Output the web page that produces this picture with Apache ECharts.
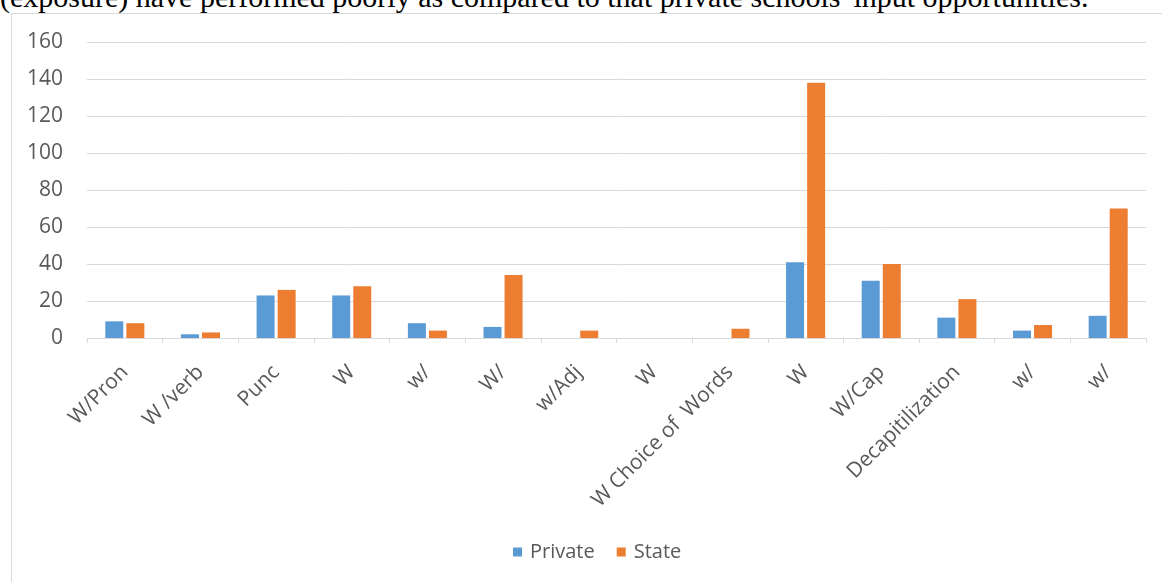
<!DOCTYPE html>
<html>
<head>
<meta charset="utf-8">
<script src="https://cdn.jsdelivr.net/npm/echarts@6/dist/echarts.min.js"></script>
<style>
html,body{margin:0;padding:0;width:1162px;height:582px;overflow:hidden;background:#fff;}
#caption{position:absolute;left:0;top:-23px;font-family:"Liberation Serif","Times New Roman",serif;font-size:30px;color:#000;white-space:nowrap;line-height:40px;}
#frame{position:absolute;left:11px;top:13px;width:1200px;height:700px;border:1px solid #d9d9d9;box-sizing:border-box;}
#chart{position:absolute;left:0;top:0;width:1162px;height:582px;}
</style>
</head>
<body>
<div id="caption">(exposure) have performed poorly as compared to that private schools' input opportunities.</div>
<div id="frame"></div>
<div id="chart"></div>
<script>
const categories = ["W/Pron", "W /verb", "Punc", "W", "w/", "W/", "w/Adj", "W", "W Choice of  Words", "W", "W/Cap", "Decapitilization", "w/", "w/"];
const privateValues = [9, 2, 23, 23, 8, 6, 0, 0, 0, 41, 31, 11, 4, 12];
const stateValues = [8, 3, 26, 28, 4, 34, 4, 0, 5, 138, 40, 21, 7, 70];
const yTicks = [0, 20, 40, 60, 80, 100, 120, 140, 160];

const chart = echarts.init(document.getElementById('chart'), null, {renderer: 'canvas'});
const font = '"Open Sans", "DejaVu Sans", sans-serif';
chart.setOption({
  animation: false,
  backgroundColor: 'transparent',
  grid: {left: 87, right: 16, top: 42, bottom: 244, containLabel: false},
  legend: {
    data: ['Private', 'State'],
    left: 508, top: 537,
    itemWidth: 9, itemHeight: 9, itemGap: 22,
    icon: 'rect',
    textStyle: {fontFamily: font, fontSize: 20, color: '#595959', padding: [0, 0, 0, 3]}
  },
  xAxis: {
    type: 'category',
    data: categories,
    axisLine: {lineStyle: {color: '#d9d9d9', width: 1}},
    axisTick: {show: true, length: 5, lineStyle: {color: '#d9d9d9'}},
    axisLabel: {rotate: 45, interval: 0, margin: 31, fontFamily: font, fontSize: 21, color: '#595959'}
  },
  yAxis: {
    type: 'value',
    min: yTicks[0], max: yTicks[yTicks.length - 1], interval: 20,
    axisLine: {show: false},
    axisTick: {show: false},
    splitLine: {lineStyle: {color: '#d9d9d9', width: 1}},
    axisLabel: {margin: 24, fontFamily: font, fontSize: 21, color: '#595959'}
  },
  series: [
    {name: 'Private', type: 'bar', data: privateValues, barWidth: 18, barGap: '17%',
     itemStyle: {color: '#5B9BD5'}},
    {name: 'State', type: 'bar', data: stateValues, barWidth: 18,
     itemStyle: {color: '#ED7D31'}}
  ]
});
</script>
</body>
</html>
